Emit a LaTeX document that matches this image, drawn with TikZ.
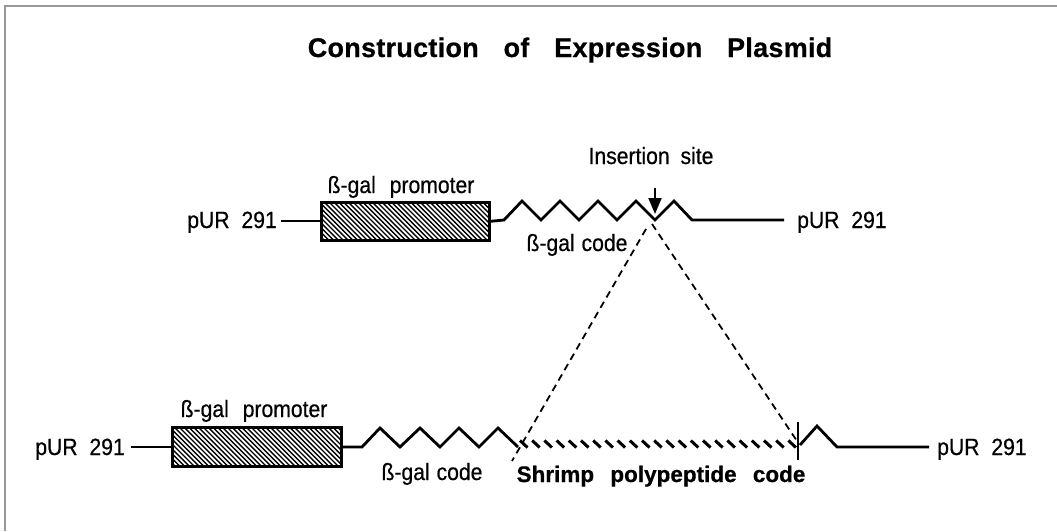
\documentclass[tikz,border=0pt]{standalone}
\usepackage{fontspec}
\setmainfont{Liberation Sans}
\newfontfamily\lblfont[FakeStretch=0.9,FakeBold=0.5]{Liberation Sans}
\newfontfamily\blblfont[WordSpace=2.6,FakeBold=0.6]{Liberation Sans}
\newfontfamily\ttlfont[WordSpace=3.2,LetterSpace=1,FakeBold=0.6]{Liberation Sans}
\usetikzlibrary{arrows.meta}
\begin{document}
\begin{tikzpicture}[x=1pt,y=-1pt,line join=miter,
  lbl/.style={font=\lblfont\fontsize{23.5}{26}\selectfont,inner sep=0pt},
  blbl/.style={font=\blblfont\bfseries\fontsize{22.5}{25}\selectfont,inner sep=0pt},
  ttl/.style={font=\ttlfont\bfseries\fontsize{27}{30}\selectfont,inner sep=0pt},
  wire/.style={line width=2.3pt},
  zig/.style={line width=2.8pt},
  promo/.style={draw,line width=2.6pt,inner sep=0pt},
  hatchln/.style={line width=1.4pt},
  strip/.style={line width=3pt},
  dashln/.style={line width=1.8pt,dash pattern=on 7pt off 5pt},
  frameln/.style={draw=black!40,line width=1.2pt}
]
\useasboundingbox (0,0) rectangle (1057,531);
\fill[white] (0,0) rectangle (1057,531);
\draw[frameln] (1057,6) -- (5,6) -- (5,531);

% title
\node[ttl,anchor=base] (title) at (570,57) {Construction of Expression Plasmid};

% ---------------- top row ----------------
\node[lbl,anchor=base east] (purTL) at (277,228) {pUR\hspace{6pt} 291};
\node[lbl,anchor=base west] (purTR) at (797,228) {pUR\hspace{6pt} 291};
\node[lbl,anchor=base] (promT) at (401,193) {ß-gal\hspace{8pt} promoter};
\node[lbl,anchor=base] (codeT) at (577,251) {ß-gal\hspace{1pt} code};
\node[lbl,anchor=base] (insT) at (651,164) {Insertion\hspace{5pt} site};

\begin{scope}
  \clip (320,201) rectangle (488,239);
  \foreach \i in {0,...,44} \draw[hatchln] ({280+4.8*\i},201) -- ++(40,40);
\end{scope}
\node[promo,minimum width=168pt,minimum height=38pt,anchor=north west] (boxT) at (320,201) {};

\coordinate (zT0) at (504,220);
\coordinate (ins) at (655,220);
\coordinate (zT1) at (692,220);
\coordinate (lT1) at (784,220);
\draw[wire] (purTL.east |- boxT.west) ++(4,0) coordinate (lT0) -- (boxT.west);
\draw[zig] (boxT.east) -- (zT0) -- (522,201) -- (541,220) -- (560,201) -- (579,220)
  -- (598,201) -- (617,220) -- (636,201) -- (ins) -- (674,201) -- (zT1) -- (lT1);

\coordinate (arrS) at (655,188);
\coordinate (arrE) at (655,214);
\draw[line width=2pt,-{Triangle[length=16pt,width=13pt]}] (arrS) -- (arrE);

% ---------------- bottom row ----------------
\node[lbl,anchor=base east] (purBL) at (125,455) {pUR\hspace{6pt} 291};
\node[lbl,anchor=base west] (purBR) at (937,455) {pUR\hspace{6pt} 291};
\node[lbl,anchor=base] (promB) at (254,417) {ß-gal\hspace{8pt} promoter};
\node[lbl,anchor=base] (codeB) at (432,480) {ß-gal\hspace{1pt} code};
\node[blbl,anchor=base] (shrimp) at (661,482) {Shrimp polypeptide code};

\begin{scope}
  \clip (171,426) rectangle (340,465);
  \foreach \i in {0,...,44} \draw[hatchln] ({130+4.8*\i},426) -- ++(40,40);
\end{scope}
\node[promo,minimum width=169pt,minimum height=39pt,anchor=north west] (boxB) at (171,426) {};

\coordinate (lB0) at (131,447);
\coordinate (zB0) at (362,447);
\coordinate (zB1) at (518,447);
\draw[wire] (lB0) -- (lB0 -| boxB.west);
\draw[zig] (boxB.east |- zB0) -- (zB0) -- (380,428) -- (400,447) -- (420,428) -- (440,447)
  -- (459,428) -- (479,447) -- (498,428) -- (zB1);

% shrimp code strip
\foreach \i in {0,...,22} \draw[strip] ({520+12.2*\i},440.5) -- ++(7.5,7);

% right end
\coordinate (tickA) at (798,422);
\coordinate (tickB) at (798,460);
\draw[line width=2.2pt] (tickA) -- (tickB);
\coordinate (zR0) at (800,445);
\coordinate (zR1) at (837,447);
\coordinate (lR1) at (929,447);
\draw[zig] (zR0) -- (817,426) -- (zR1) -- (lR1);

% dashed insertion lines
\coordinate (dL0) at (646,229);
\coordinate (dL1) at (512,461);
\coordinate (dR0) at (652,224);
\coordinate (dR1) at (797,441);
\draw[dashln] (dL0) -- (dL1);
\draw[dashln] (dR0) -- (dR1);
\end{tikzpicture}
\end{document}
